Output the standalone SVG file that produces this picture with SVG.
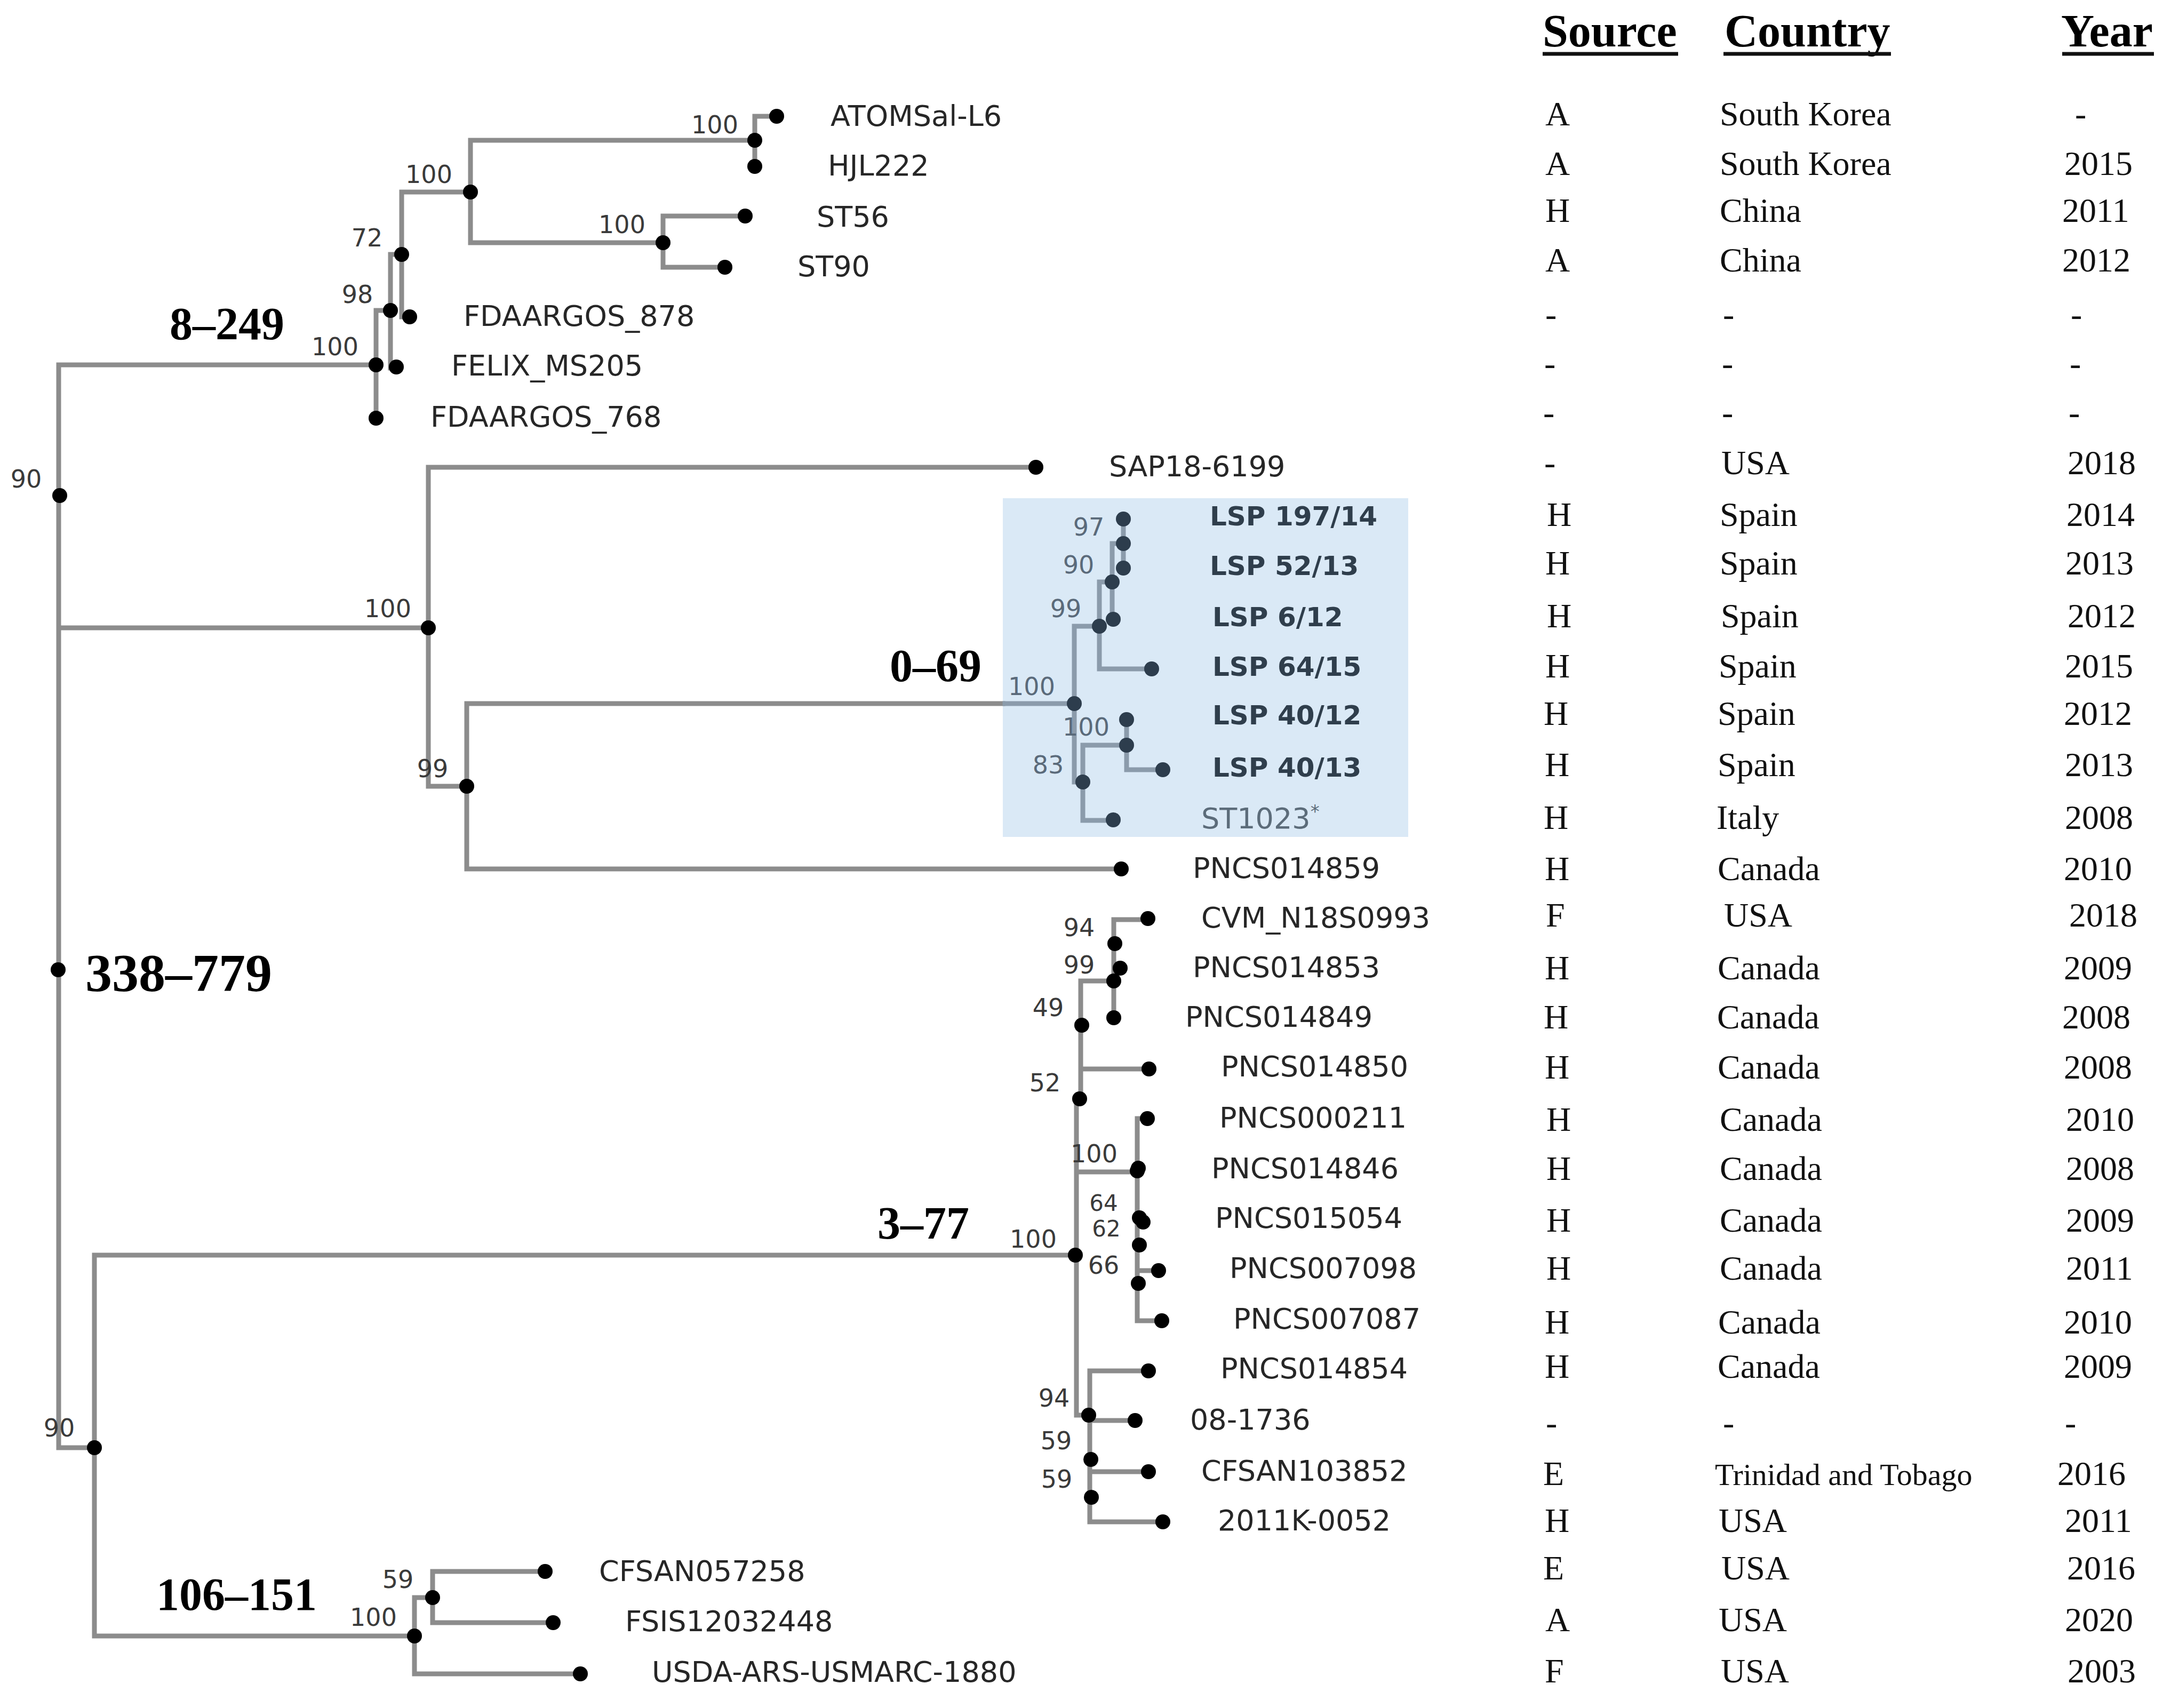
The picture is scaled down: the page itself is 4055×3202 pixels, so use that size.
<svg xmlns="http://www.w3.org/2000/svg" width="4055" height="3202" viewBox="0 0 4055 3202">
<style>
.br{fill:none;stroke:#8c8c8c;stroke-width:9;stroke-linecap:square}
.bb{fill:none;stroke:#8b9bab;stroke-width:9;stroke-linecap:square}
.d{fill:#000}
.db{fill:#2d3d4d}
.lf{font-family:"DejaVu Sans",sans-serif;font-size:54px;fill:#262626}
.lsp{font-family:"DejaVu Sans",sans-serif;font-size:50px;font-weight:bold;fill:#2f3e4c}
.bs{font-family:"DejaVu Sans",sans-serif;font-size:46px;fill:#3a3a3a;text-anchor:middle}
.bsb{font-family:"DejaVu Sans",sans-serif;font-size:46px;fill:#5a6a7a;text-anchor:middle}
.cl{font-family:"Liberation Serif",serif;font-weight:bold;font-size:86px;fill:#000}
.hd{font-family:"Liberation Serif",serif;font-weight:bold;font-size:86px;fill:#000}
.tb{font-family:"Liberation Serif",serif;font-size:64px;fill:#111}
.ul{stroke:#111;stroke-width:7}
</style>
<rect width="4055" height="3202" fill="#fff"/>
<rect id="highlight" x="1880" y="934" width="760" height="635" fill="#dae9f6"/>

<g id="connectors">
<path class="br" d="M110 684V2714M110 684H705M110 1177H803M110 2714H177M705 582V784M705 582H732M732 477V690H743M732 477H753M753 360V594H768M753 360H882M882 263V455M882 263H1415M1415 218V312M1415 218H1456M882 455H1243M1243 405V501M1243 405H1397M1243 501H1359M803 876V1474M803 876H1942M803 1474H875M875 1319V1629M875 1319H1880M875 1629H2102M177 2353V3067M177 2353H2018M177 3067H777M2018 2060V2653M2026 1839V2060M2026 2004H2154M2026 1839H2088M2088 1724V1910M2088 1724H2152M2088 1815H2100M2018 2197H2132M2132 2097V2476M2132 2097H2151M2132 2382H2172M2132 2476H2178M2018 2653H2043M2043 2570V2853M2043 2570H2153M2043 2663H2128M2043 2759H2153M2043 2853H2180M777 2995V3138M777 2995H811M811 2946V3042M811 2946H1022M811 3042H1037M777 3138H1088"/>
<path class="bb" d="M1884 1319H2014M2014 1174V1466M2014 1174H2061M2061 1091V1254M2061 1091H2085M2061 1254H2159M2085 1019V1163M2085 1019H2106M2106 973V1067M2014 1466H2030M2030 1397V1538M2030 1397H2112M2030 1538H2087M2112 1349V1443M2112 1443H2180"/>
</g>

<g id="internal-nodes">
<g id="n-root90"><circle class="d" cx="112" cy="929" r="14"/><text class="bs" x="49" y="914">90</text></g>
<g id="n-root"><circle class="d" cx="109" cy="1818" r="14"/></g>
<g id="n-a"><circle class="d" cx="705" cy="684" r="14"/><text class="bs" x="628" y="666">100</text></g>
<g id="n-b"><circle class="d" cx="732" cy="582" r="14"/><text class="bs" x="670" y="568">98</text></g>
<g id="n-c"><circle class="d" cx="753" cy="477" r="14"/><text class="bs" x="688" y="462">72</text></g>
<g id="n-d"><circle class="d" cx="882" cy="360" r="14"/><text class="bs" x="804" y="343">100</text></g>
<g id="n-e"><circle class="d" cx="1415" cy="263" r="14"/><text class="bs" x="1340" y="250">100</text></g>
<g id="n-f"><circle class="d" cx="1243" cy="455" r="14"/><text class="bs" x="1166" y="437">100</text></g>
<g id="n-g"><circle class="d" cx="803" cy="1177" r="14"/><text class="bs" x="727" y="1157">100</text></g>
<g id="n-h"><circle class="d" cx="875" cy="1474" r="14"/><text class="bs" x="811" y="1457">99</text></g>
<g id="n-i"><circle class="db" cx="2014" cy="1319" r="14"/><text class="bsb" x="1934" y="1303">100</text></g>
<g id="n-j"><circle class="db" cx="2061" cy="1174" r="14"/><text class="bsb" x="1998" y="1157">99</text></g>
<g id="n-k"><circle class="db" cx="2085" cy="1091" r="14"/><text class="bsb" x="2022" y="1075">90</text></g>
<g id="n-l"><circle class="db" cx="2106" cy="1019" r="14"/><text class="bsb" x="2041" y="1004">97</text></g>
<g id="n-m"><circle class="db" cx="2030" cy="1466" r="14"/><text class="bsb" x="1965" y="1450">83</text></g>
<g id="n-n"><circle class="db" cx="2112" cy="1397" r="14"/><text class="bsb" x="2036" y="1379">100</text></g>
<g id="n-o90"><circle class="d" cx="177" cy="2714" r="14"/><text class="bs" x="111" y="2693">90</text></g>
<g id="n-p"><circle class="d" cx="2016" cy="2353" r="14"/><text class="bs" x="1937" y="2339">100</text></g>
<g id="n-q"><circle class="d" cx="2024" cy="2060" r="14"/><text class="bs" x="1959" y="2046">52</text></g>
<g id="n-r"><circle class="d" cx="2028" cy="1922" r="14"/><text class="bs" x="1965" y="1905">49</text></g>
<g id="n-s"><circle class="d" cx="2088" cy="1839" r="14"/><text class="bs" x="2023" y="1825">99</text></g>
<g id="n-t"><circle class="d" cx="2090" cy="1769" r="14"/><text class="bs" x="2023" y="1755">94</text></g>
<g id="n-u"><circle class="d" cx="2132" cy="2195" r="14"/><text class="bs" x="2051" y="2179">100</text></g>
<g id="n-v"><circle class="d" cx="2136" cy="2283" r="14"/><text class="bs" x="2069" y="2270" style="font-size:42px">64</text></g>
<g id="n-w"><circle class="d" cx="2136" cy="2334" r="14"/><text class="bs" x="2074" y="2318" style="font-size:42px">62</text></g>
<g id="n-x"><circle class="d" cx="2134" cy="2406" r="14"/><text class="bs" x="2069" y="2388">66</text></g>
<g id="n-y"><circle class="d" cx="2041" cy="2653" r="14"/><text class="bs" x="1976" y="2637">94</text></g>
<g id="n-z"><circle class="d" cx="2045" cy="2736" r="14"/><text class="bs" x="1980" y="2717">59</text></g>
<g id="n-z2"><circle class="d" cx="2046" cy="2807" r="14"/><text class="bs" x="1981" y="2789">59</text></g>
<g id="n-aa"><circle class="d" cx="777" cy="3067" r="14"/><text class="bs" x="700" y="3048">100</text></g>
<g id="n-ab"><circle class="d" cx="811" cy="2995" r="14"/><text class="bs" x="746" y="2977">59</text></g>
</g>

<g id="clade-labels">
<text class="cl" x="318" y="636">8–249</text>
<text class="cl" x="160" y="1857" style="font-size:100px">338–779</text>
<text class="cl" x="1668" y="1277">0–69</text>
<text class="cl" x="1645" y="2322">3–77</text>
<text class="cl" x="293" y="3018">106–151</text>
</g>

<g id="header">
<text class="hd" x="2892" y="87">Source</text>
<text class="hd" x="3233" y="87">Country</text>
<text class="hd" x="3864" y="87">Year</text>
<line class="ul" x1="2892" y1="101" x2="3146" y2="101"/>
<line class="ul" x1="3231" y1="101" x2="3545" y2="101"/>
<line class="ul" x1="3866" y1="101" x2="4038" y2="101"/>
</g>

<g id="leaves">
<g id="leaf-ATOMSal-L6"><circle class="d" cx="1456" cy="218" r="14"/><text class="lf" x="1557" y="236">ATOMSal-L6</text><text class="tb" x="2897" y="235">A</text><text class="tb" x="3224" y="235">South Korea</text><text class="tb" x="3890" y="235">-</text></g>
<g id="leaf-HJL222"><circle class="d" cx="1415" cy="312" r="14"/><text class="lf" x="1552" y="329">HJL222</text><text class="tb" x="2897" y="328">A</text><text class="tb" x="3224" y="328">South Korea</text><text class="tb" x="3870" y="328">2015</text></g>
<g id="leaf-ST56"><circle class="d" cx="1397" cy="405" r="14"/><text class="lf" x="1531" y="425">ST56</text><text class="tb" x="2897" y="416">H</text><text class="tb" x="3224" y="416">China</text><text class="tb" x="3866" y="416">2011</text></g>
<g id="leaf-ST90"><circle class="d" cx="1359" cy="501" r="14"/><text class="lf" x="1495" y="518">ST90</text><text class="tb" x="2897" y="509">A</text><text class="tb" x="3224" y="509">China</text><text class="tb" x="3866" y="509">2012</text></g>
<g id="leaf-FDAARGOS_878"><circle class="d" cx="768" cy="594" r="14"/><text class="lf" x="869" y="611">FDAARGOS_878</text><text class="tb" x="2897" y="611">-</text><text class="tb" x="3230" y="611">-</text><text class="tb" x="3882" y="611">-</text></g>
<g id="leaf-FELIX_MS205"><circle class="d" cx="743" cy="688" r="14"/><text class="lf" x="846" y="704">FELIX_MS205</text><text class="tb" x="2895" y="703">-</text><text class="tb" x="3228" y="703">-</text><text class="tb" x="3880" y="703">-</text></g>
<g id="leaf-FDAARGOS_768"><circle class="d" cx="705" cy="784" r="14"/><text class="lf" x="807" y="800">FDAARGOS_768</text><text class="tb" x="2893" y="795">-</text><text class="tb" x="3228" y="795">-</text><text class="tb" x="3878" y="795">-</text></g>
<g id="leaf-SAP18-6199"><circle class="d" cx="1942" cy="876" r="14"/><text class="lf" x="2079" y="893">SAP18-6199</text><text class="tb" x="2895" y="889">-</text><text class="tb" x="3227" y="889">USA</text><text class="tb" x="3876" y="889">2018</text></g>
<g id="leaf-LSP197-14"><circle class="db" cx="2106" cy="973" r="14"/><text class="lsp" x="2268" y="985">LSP 197/14</text><text class="tb" x="2900" y="986">H</text><text class="tb" x="3224" y="986">Spain</text><text class="tb" x="3874" y="986">2014</text></g>
<g id="leaf-LSP52-13"><circle class="db" cx="2106" cy="1065" r="14"/><text class="lsp" x="2268" y="1078">LSP 52/13</text><text class="tb" x="2897" y="1077">H</text><text class="tb" x="3224" y="1077">Spain</text><text class="tb" x="3872" y="1077">2013</text></g>
<g id="leaf-LSP6-12"><circle class="db" cx="2087" cy="1161" r="14"/><text class="lsp" x="2273" y="1174">LSP 6/12</text><text class="tb" x="2900" y="1176">H</text><text class="tb" x="3226" y="1176">Spain</text><text class="tb" x="3876" y="1176">2012</text></g>
<g id="leaf-LSP64-15"><circle class="db" cx="2159" cy="1254" r="14"/><text class="lsp" x="2273" y="1267">LSP 64/15</text><text class="tb" x="2897" y="1270">H</text><text class="tb" x="3222" y="1270">Spain</text><text class="tb" x="3871" y="1270">2015</text></g>
<g id="leaf-LSP40-12"><circle class="db" cx="2112" cy="1349" r="14"/><text class="lsp" x="2273" y="1358">LSP 40/12</text><text class="tb" x="2894" y="1359">H</text><text class="tb" x="3220" y="1359">Spain</text><text class="tb" x="3869" y="1359">2012</text></g>
<g id="leaf-LSP40-13"><circle class="db" cx="2180" cy="1443" r="14"/><text class="lsp" x="2273" y="1456">LSP 40/13</text><text class="tb" x="2896" y="1455">H</text><text class="tb" x="3220" y="1455">Spain</text><text class="tb" x="3871" y="1455">2013</text></g>
<g id="leaf-ST1023"><circle class="db" cx="2087" cy="1537" r="14"/><text class="lf" x="2252" y="1553" style="fill:#5c6c7a">ST1023<tspan dy="-20" style="font-size:34px">*</tspan></text><text class="tb" x="2894" y="1554">H</text><text class="tb" x="3218" y="1554">Italy</text><text class="tb" x="3871" y="1554">2008</text></g>
<g id="leaf-PNCS014859"><circle class="d" cx="2102" cy="1629" r="14"/><text class="lf" x="2236" y="1646">PNCS014859</text><text class="tb" x="2896" y="1650">H</text><text class="tb" x="3220" y="1650">Canada</text><text class="tb" x="3869" y="1650">2010</text></g>
<g id="leaf-CVM_N18S0993"><circle class="d" cx="2152" cy="1722" r="14"/><text class="lf" x="2252" y="1739">CVM_N18S0993</text><text class="tb" x="2898" y="1737">F</text><text class="tb" x="3232" y="1737">USA</text><text class="tb" x="3879" y="1737">2018</text></g>
<g id="leaf-PNCS014853"><circle class="d" cx="2100" cy="1815" r="14"/><text class="lf" x="2236" y="1832">PNCS014853</text><text class="tb" x="2896" y="1836">H</text><text class="tb" x="3220" y="1836">Canada</text><text class="tb" x="3869" y="1836">2009</text></g>
<g id="leaf-PNCS014849"><circle class="d" cx="2088" cy="1908" r="14"/><text class="lf" x="2222" y="1925">PNCS014849</text><text class="tb" x="2894" y="1928">H</text><text class="tb" x="3219" y="1928">Canada</text><text class="tb" x="3866" y="1928">2008</text></g>
<g id="leaf-PNCS014850"><circle class="d" cx="2154" cy="2004" r="14"/><text class="lf" x="2289" y="2018">PNCS014850</text><text class="tb" x="2896" y="2022">H</text><text class="tb" x="3220" y="2022">Canada</text><text class="tb" x="3869" y="2022">2008</text></g>
<g id="leaf-PNCS000211"><circle class="d" cx="2151" cy="2097" r="14"/><text class="lf" x="2286" y="2114">PNCS000211</text><text class="tb" x="2899" y="2120">H</text><text class="tb" x="3224" y="2120">Canada</text><text class="tb" x="3873" y="2120">2010</text></g>
<g id="leaf-PNCS014846"><circle class="d" cx="2134" cy="2190" r="14"/><text class="lf" x="2271" y="2209">PNCS014846</text><text class="tb" x="2899" y="2212">H</text><text class="tb" x="3224" y="2212">Canada</text><text class="tb" x="3873" y="2212">2008</text></g>
<g id="leaf-PNCS015054"><circle class="d" cx="2143" cy="2291" r="14"/><text class="lf" x="2278" y="2302">PNCS015054</text><text class="tb" x="2899" y="2309">H</text><text class="tb" x="3224" y="2309">Canada</text><text class="tb" x="3873" y="2309">2009</text></g>
<g id="leaf-PNCS007098"><circle class="d" cx="2172" cy="2382" r="14"/><text class="lf" x="2305" y="2396">PNCS007098</text><text class="tb" x="2899" y="2399">H</text><text class="tb" x="3224" y="2399">Canada</text><text class="tb" x="3873" y="2399">2011</text></g>
<g id="leaf-PNCS007087"><circle class="d" cx="2178" cy="2476" r="14"/><text class="lf" x="2312" y="2491">PNCS007087</text><text class="tb" x="2896" y="2500">H</text><text class="tb" x="3221" y="2500">Canada</text><text class="tb" x="3869" y="2500">2010</text></g>
<g id="leaf-PNCS014854"><circle class="d" cx="2153" cy="2570" r="14"/><text class="lf" x="2288" y="2584">PNCS014854</text><text class="tb" x="2896" y="2583">H</text><text class="tb" x="3220" y="2583">Canada</text><text class="tb" x="3869" y="2583">2009</text></g>
<g id="leaf-08-1736"><circle class="d" cx="2128" cy="2663" r="14"/><text class="lf" x="2231" y="2680">08-1736</text><text class="tb" x="2898" y="2689">-</text><text class="tb" x="3230" y="2689">-</text><text class="tb" x="3871" y="2689">-</text></g>
<g id="leaf-CFSAN103852"><circle class="d" cx="2153" cy="2759" r="14"/><text class="lf" x="2252" y="2776">CFSAN103852</text><text class="tb" x="2893" y="2784">E</text><text class="tb" x="3215" y="2784" style="font-size:58px">Trinidad and Tobago</text><text class="tb" x="3857" y="2784">2016</text></g>
<g id="leaf-2011K-0052"><circle class="d" cx="2180" cy="2853" r="14"/><text class="lf" x="2283" y="2869">2011K-0052</text><text class="tb" x="2896" y="2872">H</text><text class="tb" x="3222" y="2872">USA</text><text class="tb" x="3871" y="2872">2011</text></g>
<g id="leaf-CFSAN057258"><circle class="d" cx="1022" cy="2946" r="14"/><text class="lf" x="1123" y="2964">CFSAN057258</text><text class="tb" x="2893" y="2961">E</text><text class="tb" x="3227" y="2961">USA</text><text class="tb" x="3875" y="2961">2016</text></g>
<g id="leaf-FSIS12032448"><circle class="d" cx="1037" cy="3042" r="14"/><text class="lf" x="1172" y="3058">FSIS12032448</text><text class="tb" x="2897" y="3058">A</text><text class="tb" x="3222" y="3058">USA</text><text class="tb" x="3871" y="3058">2020</text></g>
<g id="leaf-USDA-ARS-USMARC-1880"><circle class="d" cx="1088" cy="3138" r="14"/><text class="lf" x="1222" y="3153">USDA-ARS-USMARC-1880</text><text class="tb" x="2896" y="3154">F</text><text class="tb" x="3226" y="3154">USA</text><text class="tb" x="3876" y="3154">2003</text></g>
</g>
</svg>
